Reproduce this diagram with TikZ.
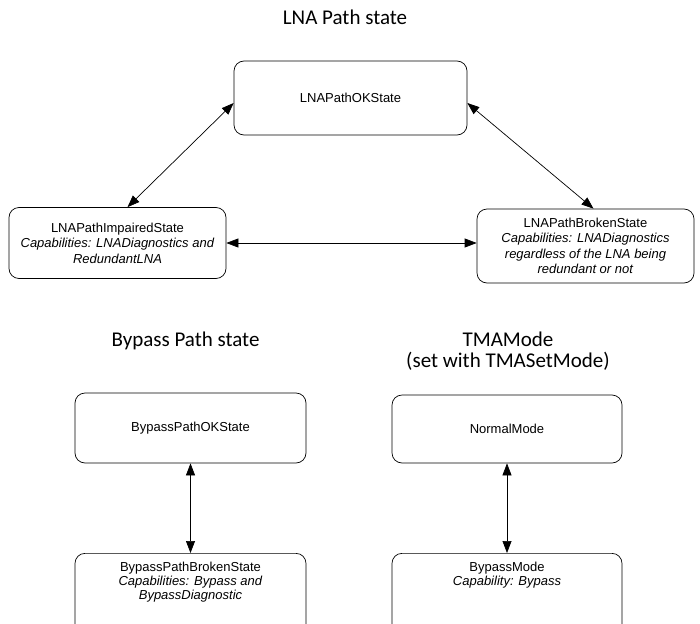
\documentclass[tikz,border=0pt]{standalone}
\usepackage{fontspec}
\setmainfont{Liberation Sans}
\newfontfamily\titlefont{Carlito}
\usetikzlibrary{arrows.meta,positioning}

\tikzset{
  statebox/.style={draw, rounded corners=10pt, line width=0.7pt, align=center,
    inner sep=2pt, font=\fontsize{13}{15.5}\selectfont},
  boxtext/.style={align=center, inner sep=0pt, font=\fontsize{13}{14}\selectfont},
  heading/.style={anchor=base, inner sep=0pt, font=\titlefont\fontsize{21}{21}\selectfont},
  link/.style={{Triangle[length=12pt,width=9pt]}-{Triangle[length=12pt,width=9pt]}, line width=0.7pt}
}

\begin{document}
\begin{tikzpicture}[x=1pt,y=-1pt]
\useasboundingbox (0,0) rectangle (700,623);

% LNA path state
\node[heading] (lnatitle) at (345,25) {LNA Path state};
\node[statebox, minimum width=233, minimum height=74] (ok) at (350.5,98) {LNAPathOKState};
\node[statebox, minimum width=217, minimum height=71] (imp) at (117.5,243)
  {LNAPathImpairedState\\ \textit{Capabilities: LNADiagnostics and}\\ \textit{RedundantLNA}};
\node[statebox, minimum width=217, minimum height=74] (brk) at (585.5,246)
  {LNAPathBrokenState\\ \textit{Capabilities: LNADiagnostics}\\ \textit{regardless of the LNA being}\\ \textit{redundant or not}};

\draw[link] ([yshift=-5pt]ok.west) -- ([xshift=10pt]imp.north);
\draw[link] ([yshift=-5pt]ok.east) -- ([xshift=8pt]brk.north);
\draw[link] (imp.east) -- (imp.east -| brk.west);

% Bypass path state
\node[heading] (bytitle) at (185.5,346) {Bypass Path state};
\node[statebox, minimum width=231, minimum height=70] (byok) at (190.5,428) {BypassPathOKState};
\node[statebox, minimum width=231, minimum height=90, anchor=north] (bybrk) at (190.5,553) {};
\node[boxtext, below=9pt of bybrk.north] (bybrktxt)
  {BypassPathBrokenState\\ \textit{Capabilities: Bypass and}\\ \textit{BypassDiagnostic}};

\draw[link] (byok.south) -- (bybrk.north);

% TMA mode
\node[heading] (tmatitle) at (508,346) {TMAMode};
\node[heading] (tmasub) at (508,367) {(set with TMASetMode)};
\node[statebox, minimum width=230, minimum height=68] (normal) at (507,429) {NormalMode};
\node[statebox, minimum width=230, minimum height=90, anchor=north] (bymode) at (507,553) {};
\node[boxtext, below=9pt of bymode.north] (bymodetxt)
  {BypassMode\\ \textit{Capability: Bypass}};

\draw[link] (normal.south) -- (bymode.north);
\end{tikzpicture}
\end{document}
